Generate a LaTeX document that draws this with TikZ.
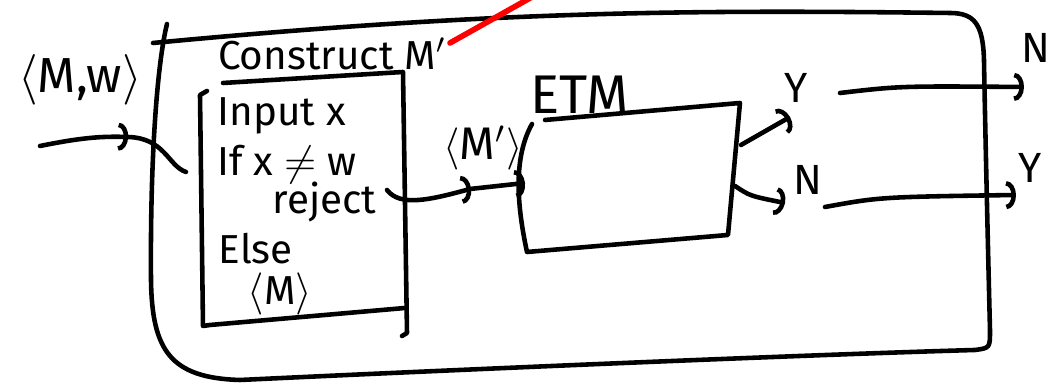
\documentclass[tikz,border=0pt]{standalone}
\usepackage{fontspec}
\setmainfont{Fira Sans}
\usetikzlibrary{arrows.meta,decorations.markings}
\begin{document}
\begin{tikzpicture}[x=0.01cm,y=-0.01cm,
  pen/.style={line width=1.3pt,line cap=round,line join=round},
  tip/.style={-{Arc Barb[length=2.8pt,width=8pt,line width=1.3pt]}},
  midtip/.style={postaction={decorate},decoration={markings,
     mark=at position #1 with {\arrow{Arc Barb[length=2.8pt,width=8pt,line width=1.3pt]}}}},
  lbl/.style={inner sep=0pt,font=\fontsize{12}{14}\selectfont},
  txt/.style={inner sep=0pt,anchor=west,font=\fontsize{11.5}{13}\selectfont}]
\useasboundingbox (0,0) rectangle (1050,383);
% outer machine box
\draw[pen] (167,24) .. controls (158,60) and (150,150) .. (151,280)
  .. controls (152,350) and (170,378) .. (240,380)
  .. controls (450,370) and (800,355) .. (975,350)
  .. controls (990,348) .. (990,330)
  .. controls (988,250) and (985,120) .. (984,60)
  .. controls (983,25) and (975,13) .. (950,13)
  .. controls (700,10) and (500,10) .. (153,43);
% red stroke
\draw[line width=1.6pt,red,line cap=round] (450,43) -- (532,-3);
% title
\node[lbl,font=\fontsize{11.5}{13}\selectfont] (title) at (332,54) {Construct M$'$};
% inner (construct) box
\draw[pen] (223,83) -- (403,72) -- (407,333) -- (402,336);
\draw[pen] (405,308) -- (210,325) -- (203,326) -- (200,95) -- (207,91);
\coordinate (inL) at (186,172);
\coordinate (inR) at (387,190);
\node[txt] (t1) at (217,116) {Input x};
\node[txt] (t2) at (217,164) {If x $\neq$ w};
\node[txt] (t3) at (272,202) {reject};
\node[txt] (t4) at (218,249) {Else};
\node[txt] (t5) at (247,294) {\(\langle\)M\(\rangle\)};
% input
\node[lbl,font=\fontsize{14}{16}\selectfont] (mw) at (80,80) {\(\langle\)M,w\(\rangle\)};
\coordinate (inS) at (40,146);
\draw[pen,midtip=0.56] (inS) .. controls (80,138) and (100,136) .. (128,137)
  .. controls (165,138) and (168,166) .. (inL);
% ETM box
\draw[pen] (545,120) -- (740,103) -- (728,235) -- (527,252)
  .. controls (518,210) and (512,160) .. (532,124);
\node[lbl,font=\fontsize{15.5}{18}\selectfont] (etm) at (580,95) {ETM};
\coordinate (etmL) at (525,183);
\node[lbl,font=\fontsize{13}{15}\selectfont] (mp) at (483,148) {\(\langle\)M$'$\(\rangle\)};
\draw[pen,tip,midtip=0.62] (inR) .. controls (400,207) and (430,200) .. (470,189) -- (etmL);
% ETM outputs
\coordinate (eY) at (741,145);
\coordinate (eN) at (735,186);
\coordinate (oY) at (790,117);
\coordinate (oN) at (785,203);
\draw[pen,tip] (eY) -- (oY);
\draw[pen,tip] (eN) .. controls (750,196) .. (oN);
\node[lbl] (ly) at (796,88) {Y};
\node[lbl] (ln) at (808,180) {N};
% final outputs
\coordinate (aY) at (840,93);
\coordinate (bY) at (1024,87);
\coordinate (aN) at (825,207);
\coordinate (bN) at (1016,195);
\draw[pen,tip] (aY) .. controls (900,86) .. (bY);
\draw[pen,tip] (aN) .. controls (880,197) .. (bN);
\node[lbl] (rn) at (1036,48) {N};
\node[lbl] (ry) at (1030,168) {Y};
\end{tikzpicture}
\end{document}
